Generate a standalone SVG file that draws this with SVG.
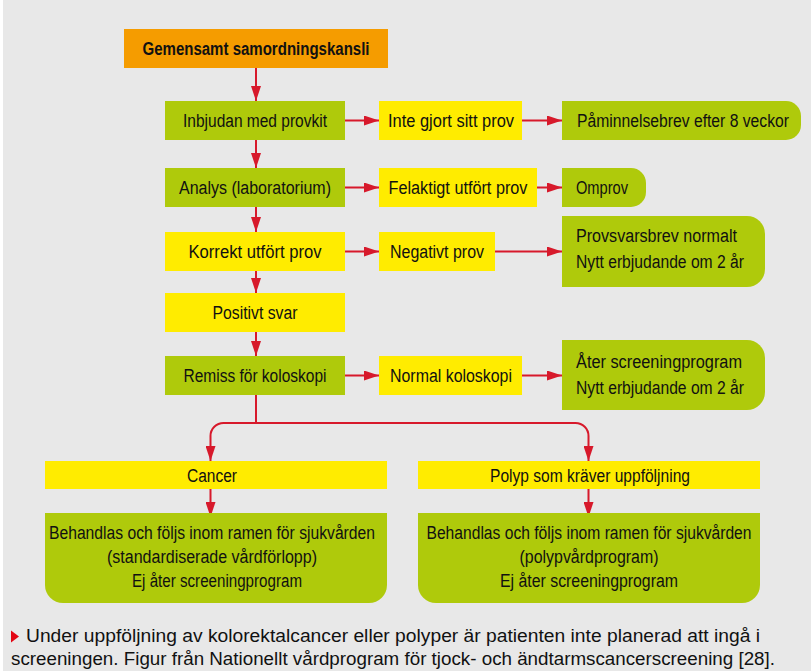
<svg xmlns="http://www.w3.org/2000/svg" width="811" height="671" viewBox="0 0 811 671">
<defs>
<marker id="ah" markerUnits="userSpaceOnUse" markerWidth="15" markerHeight="10" refX="15" refY="5" orient="auto">
<path d="M0,0 L15,5 L0,10 z" fill="#d7192b"/>
</marker>
<style>
.t{font-family:"Liberation Sans",Arial,sans-serif;font-size:18px;fill:#111;}
.c{text-anchor:middle;}
.b{font-weight:bold;}
.g{fill:#afca0b;}
.y{fill:#ffec00;}
.o{fill:#f59c00;}
.ln{fill:none;stroke:#d7192b;stroke-width:2;}
.cap{font-family:"Liberation Sans",Arial,sans-serif;font-size:17.5px;fill:#111;}
</style>
</defs>
<rect x="0" y="0" width="811" height="671" fill="#ffffff"/>
<rect x="3" y="0" width="808" height="671" fill="#e8e8e8"/>

<g id="connectors">
<path class="ln" d="M256,68 V101" marker-end="url(#ah)"/>
<path class="ln" d="M256,140 V168" marker-end="url(#ah)"/>
<path class="ln" d="M256,207 V232" marker-end="url(#ah)"/>
<path class="ln" d="M256,271 V293" marker-end="url(#ah)"/>
<path class="ln" d="M256,332 V356" marker-end="url(#ah)"/>
<path class="ln" d="M345,120.5 H379" marker-end="url(#ah)"/>
<path class="ln" d="M522,120.5 H562" marker-end="url(#ah)"/>
<path class="ln" d="M345,187.5 H379" marker-end="url(#ah)"/>
<path class="ln" d="M537,187.5 H562" marker-end="url(#ah)"/>
<path class="ln" d="M345,251.5 H379" marker-end="url(#ah)"/>
<path class="ln" d="M495,251.5 H562" marker-end="url(#ah)"/>
<path class="ln" d="M345,375.5 H379" marker-end="url(#ah)"/>
<path class="ln" d="M522,375.5 H562" marker-end="url(#ah)"/>
<path class="ln" d="M256,395 V423"/>
<path class="ln" d="M256,423 H223.5 A13,13 0 0 0 210.5,436 V461" marker-end="url(#ah)"/>
<path class="ln" d="M256,423 H575.5 A13,13 0 0 1 588.5,436 V461" marker-end="url(#ah)"/>
<path class="ln" d="M210.5,489 V517" marker-end="url(#ah)"/>
<path class="ln" d="M588.5,489 V517" marker-end="url(#ah)"/>
</g>

<g id="n-kansli">
<rect class="o" x="124" y="29" width="264" height="39"/>
<text class="t c b" x="256" y="55" textLength="227" lengthAdjust="spacingAndGlyphs">Gemensamt samordningskansli</text>
</g>
<g id="n-inbjudan">
<rect class="g" x="165" y="101" width="180" height="39"/>
<text class="t c" x="255" y="127" textLength="144" lengthAdjust="spacingAndGlyphs">Inbjudan med provkit</text>
</g>
<g id="n-integjort">
<rect class="y" x="379" y="101" width="143" height="39"/>
<text class="t c" x="451" y="127" textLength="126" lengthAdjust="spacingAndGlyphs">Inte gjort sitt prov</text>
</g>
<g id="n-paminnelse">
<path class="g" d="M562,101 H786 A15,15 0 0 1 801,116 V125 A15,15 0 0 1 786,140 H562 Z"/>
<text class="t" x="577" y="127" textLength="212" lengthAdjust="spacingAndGlyphs">Påminnelsebrev efter 8 veckor</text>
</g>
<g id="n-analys">
<rect class="g" x="165" y="168" width="180" height="39"/>
<text class="t c" x="255" y="194" textLength="152" lengthAdjust="spacingAndGlyphs">Analys (laboratorium)</text>
</g>
<g id="n-felaktigt">
<rect class="y" x="379" y="168" width="158" height="39"/>
<text class="t c" x="458" y="194" textLength="139" lengthAdjust="spacingAndGlyphs">Felaktigt utfört prov</text>
</g>
<g id="n-omprov">
<path class="g" d="M562,168 H631 A15,15 0 0 1 646,183 V192 A15,15 0 0 1 631,207 H562 Z"/>
<text class="t" x="576" y="194" textLength="52" lengthAdjust="spacingAndGlyphs">Omprov</text>
</g>
<g id="n-korrekt">
<rect class="y" x="165" y="232" width="180" height="39"/>
<text class="t c" x="255" y="258" textLength="133" lengthAdjust="spacingAndGlyphs">Korrekt utfört prov</text>
</g>
<g id="n-negativt">
<rect class="y" x="379" y="232" width="116" height="39"/>
<text class="t c" x="437" y="258" textLength="94" lengthAdjust="spacingAndGlyphs">Negativt prov</text>
</g>
<g id="n-provsvar">
<path class="g" d="M562,216 H747 A18,18 0 0 1 765,234 V269 A18,18 0 0 1 747,287 H562 Z"/>
<text class="t" x="576" y="242" textLength="161" lengthAdjust="spacingAndGlyphs">Provsvarsbrev normalt</text>
<text class="t" x="576" y="268" textLength="168" lengthAdjust="spacingAndGlyphs">Nytt erbjudande om 2 år</text>
</g>
<g id="n-positivt">
<rect class="y" x="165" y="293" width="180" height="39"/>
<text class="t c" x="255" y="319" textLength="85" lengthAdjust="spacingAndGlyphs">Positivt svar</text>
</g>
<g id="n-remiss">
<rect class="g" x="165" y="356" width="180" height="39"/>
<text class="t c" x="255" y="382" textLength="143" lengthAdjust="spacingAndGlyphs">Remiss för koloskopi</text>
</g>
<g id="n-normal">
<rect class="y" x="379" y="356" width="143" height="39"/>
<text class="t c" x="451" y="382" textLength="122" lengthAdjust="spacingAndGlyphs">Normal koloskopi</text>
</g>
<g id="n-ater">
<path class="g" d="M562,340 H747 A18,18 0 0 1 765,358 V392 A18,18 0 0 1 747,410 H562 Z"/>
<text class="t" x="576" y="368" textLength="166" lengthAdjust="spacingAndGlyphs">Åter screeningprogram</text>
<text class="t" x="576" y="394" textLength="168" lengthAdjust="spacingAndGlyphs">Nytt erbjudande om 2 år</text>
</g>
<g id="n-cancer">
<rect class="y" x="45" y="461" width="342" height="28"/>
<text class="t c" x="212" y="481.5" textLength="50" lengthAdjust="spacingAndGlyphs">Cancer</text>
</g>
<g id="n-polyp">
<rect class="y" x="418" y="461" width="342" height="28"/>
<text class="t c" x="590" y="481.5" textLength="200" lengthAdjust="spacingAndGlyphs">Polyp som kräver uppföljning</text>
</g>
<g id="n-behandlas1">
<path class="g" d="M45,513 H387 V585 A18,18 0 0 1 369,603 H63 A18,18 0 0 1 45,585 Z"/>
<text class="t c" x="212" y="538.5" textLength="326" lengthAdjust="spacingAndGlyphs">Behandlas och följs inom ramen för sjukvården</text>
<text class="t c" x="212" y="562.5" textLength="210" lengthAdjust="spacingAndGlyphs">(standardiserade vårdförlopp)</text>
<text class="t c" x="217" y="586.5" textLength="170" lengthAdjust="spacingAndGlyphs">Ej åter screeningprogram</text>
</g>
<g id="n-behandlas2">
<path class="g" d="M418,513 H760 V585 A18,18 0 0 1 742,603 H436 A18,18 0 0 1 418,585 Z"/>
<text class="t c" x="589" y="538.5" textLength="325" lengthAdjust="spacingAndGlyphs">Behandlas och följs inom ramen för sjukvården</text>
<text class="t c" x="589" y="562.5" textLength="139" lengthAdjust="spacingAndGlyphs">(polypvårdprogram)</text>
<text class="t c" x="589" y="586.5" textLength="178" lengthAdjust="spacingAndGlyphs">Ej åter screeningprogram</text>
</g>

<g id="caption">
<polygon points="11,630.5 19,636.5 11,642.5" fill="#e30613"/>
<text class="cap" x="26" y="642" textLength="734" lengthAdjust="spacingAndGlyphs">Under uppföljning av kolorektalcancer eller polyper är patienten inte planerad att ingå i</text>
<text class="cap" x="11" y="665" textLength="764" lengthAdjust="spacingAndGlyphs">screeningen. Figur från Nationellt vårdprogram för tjock- och ändtarmscancerscreening [28].</text>
</g>
</svg>
